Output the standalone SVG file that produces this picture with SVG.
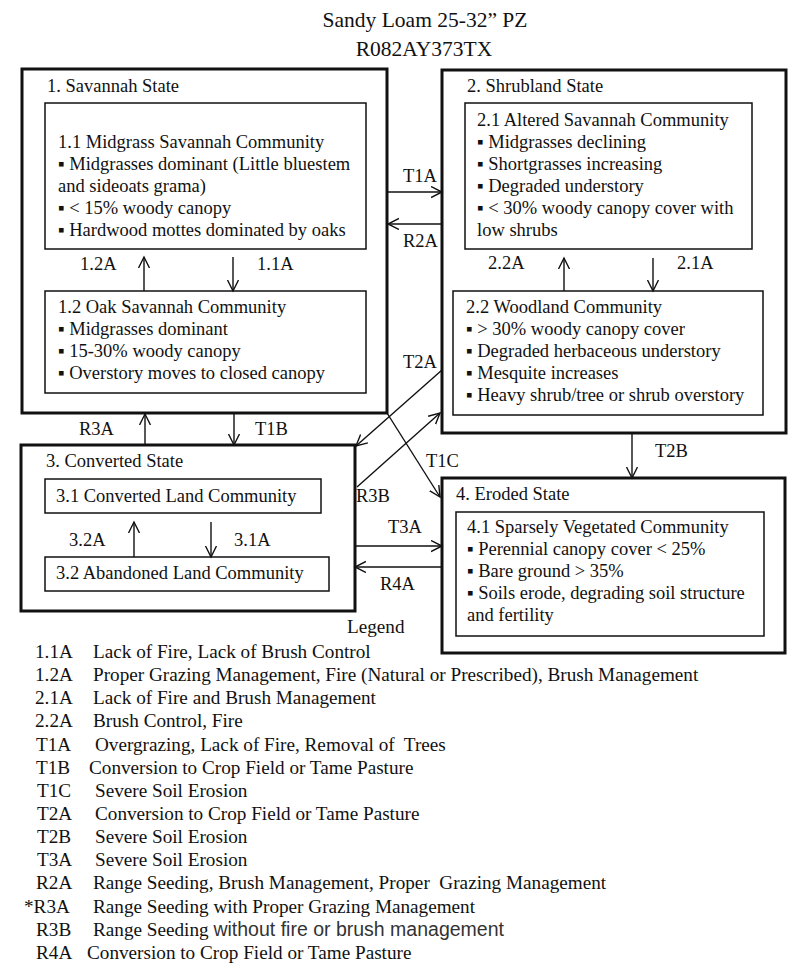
<svg xmlns="http://www.w3.org/2000/svg" width="800" height="973" viewBox="0 0 800 973">
<style>
text{font-family:"Liberation Serif","Times New Roman",serif;font-size:18.5px;fill:#111}
.title{font-size:21.5px;text-anchor:middle}
#legend text{font-size:19.2px}
#legend .sans{font-family:"Liberation Sans","Open Sans",sans-serif;font-size:19.5px;fill:#333}
.st{fill:none;stroke:#111;stroke-width:3}
.cb{fill:none;stroke:#111;stroke-width:1.5}
.cn line{stroke:#111;stroke-width:1.4;marker-end:url(#ah)}
</style>
<defs>
<marker id="ah" markerUnits="userSpaceOnUse" markerWidth="14" markerHeight="14" refX="11" refY="6" orient="auto">
<path d="M0,0.5 L11,6 L0,11.5" fill="none" stroke="#111" stroke-width="1.4"/>
</marker>
</defs>
<rect width="800" height="973" fill="#fff"/>

<g id="title">
<text class="title" x="425" y="27">Sandy Loam 25-32” PZ</text>
<text class="title" x="424" y="56">R082AY373TX</text>
</g>

<g id="state1">
<rect class="st" x="22" y="69" width="365" height="344"/>
<text x="47" y="92">1. Savannah State</text>
</g>
<g id="comm11">
<rect class="cb" x="45" y="103" width="321" height="146"/>
<text x="58" y="148">1.1 Midgrass Savannah Community</text>
<text x="58" y="170">▪ Midgrasses dominant (Little bluestem</text>
<text x="58" y="192">and sideoats grama)</text>
<text x="58" y="214">▪ &lt; 15% woody canopy</text>
<text x="58" y="236">▪ Hardwood mottes dominated by oaks</text>
</g>
<g id="comm12">
<rect class="cb" x="45" y="291" width="321" height="102"/>
<text x="58" y="313">1.2 Oak Savannah Community</text>
<text x="58" y="335">▪ Midgrasses dominant</text>
<text x="58" y="357">▪ 15-30% woody canopy</text>
<text x="58" y="379">▪ Overstory moves to closed canopy</text>
</g>

<g id="state2">
<rect class="st" x="442" y="70" width="344" height="363"/>
<text x="467" y="92">2. Shrubland State</text>
</g>
<g id="comm21">
<rect class="cb" x="465" y="103" width="287" height="146"/>
<text x="477" y="126">2.1 Altered Savannah Community</text>
<text x="477" y="148">▪ Midgrasses declining</text>
<text x="477" y="170">▪ Shortgrasses increasing</text>
<text x="477" y="192">▪ Degraded understory</text>
<text x="477" y="214">▪ &lt; 30% woody canopy cover with</text>
<text x="477" y="236">low shrubs</text>
</g>
<g id="comm22">
<rect class="cb" x="453" y="291" width="310" height="124"/>
<text x="466" y="313">2.2 Woodland Community</text>
<text x="466" y="335">▪ &gt; 30% woody canopy cover</text>
<text x="466" y="357">▪ Degraded herbaceous understory</text>
<text x="466" y="379">▪ Mesquite increases</text>
<text x="466" y="401">▪ Heavy shrub/tree or shrub overstory</text>
</g>

<g id="state3">
<rect class="st" x="21" y="445" width="334" height="166"/>
<text x="46" y="467">3. Converted State</text>
</g>
<g id="comm31">
<rect class="cb" x="45" y="479" width="276" height="34"/>
<text x="56" y="502">3.1 Converted Land Community</text>
</g>
<g id="comm32">
<rect class="cb" x="45" y="557" width="284" height="34"/>
<text x="56" y="579">3.2 Abandoned Land Community</text>
</g>

<g id="state4">
<rect class="st" x="442" y="478" width="343" height="175"/>
<text x="456" y="500">4. Eroded State</text>
</g>
<g id="comm41">
<rect class="cb" x="456" y="512" width="308" height="124"/>
<text x="467" y="533">4.1 Sparsely Vegetated Community</text>
<text x="467" y="555">▪ Perennial canopy cover &lt; 25%</text>
<text x="467" y="577">▪ Bare ground &gt; 35%</text>
<text x="467" y="599">▪ Soils erode, degrading soil structure</text>
<text x="467" y="621">and fertility</text>
</g>

<g id="connectors" class="cn">
<line x1="144" y1="291" x2="144" y2="257"/>
<line x1="233" y1="257" x2="233" y2="291"/>
<line x1="564" y1="291" x2="564" y2="258"/>
<line x1="653" y1="258" x2="653" y2="291"/>
<line x1="145" y1="445" x2="145" y2="414"/>
<line x1="234" y1="414" x2="234" y2="445"/>
<line x1="134" y1="557" x2="134" y2="522"/>
<line x1="211" y1="522" x2="211" y2="557"/>
<line x1="388" y1="192" x2="442" y2="192"/>
<line x1="442" y1="224" x2="388" y2="224"/>
<line x1="355" y1="546" x2="442" y2="546"/>
<line x1="442" y1="567" x2="355" y2="567"/>
<line x1="632" y1="433" x2="632" y2="478"/>
<line x1="442" y1="370" x2="356" y2="446"/>
<line x1="357" y1="487" x2="440" y2="413"/>
<line x1="387" y1="413" x2="440" y2="497"/>
</g>

<g id="connector-labels">
<text x="80" y="270">1.2A</text>
<text x="257" y="270">1.1A</text>
<text x="488" y="269">2.2A</text>
<text x="677" y="269">2.1A</text>
<text x="79" y="435">R3A</text>
<text x="255" y="435">T1B</text>
<text x="69" y="546">3.2A</text>
<text x="234" y="546">3.1A</text>
<text x="403" y="182">T1A</text>
<text x="403" y="247">R2A</text>
<text x="403" y="368">T2A</text>
<text x="426" y="467">T1C</text>
<text x="356" y="502">R3B</text>
<text x="388" y="533">T3A</text>
<text x="380" y="590">R4A</text>
<text x="655" y="457">T2B</text>
</g>

<g id="legend">
<text x="347" y="633">Legend</text>
<text x="35" y="658">1.1A</text><text x="93" y="658">Lack of Fire, Lack of Brush Control</text>
<text x="35" y="681">1.2A</text><text x="93" y="681">Proper Grazing Management, Fire (Natural or Prescribed), Brush Management</text>
<text x="35" y="704">2.1A</text><text x="93" y="704">Lack of Fire and Brush Management</text>
<text x="35" y="727">2.2A</text><text x="93" y="727">Brush Control, Fire</text>
<text x="36" y="751">T1A</text><text x="95" y="751">Overgrazing, Lack of Fire, Removal of&#160; Trees</text>
<text x="36" y="774">T1B</text><text x="89" y="774">Conversion to Crop Field or Tame Pasture</text>
<text x="37" y="797">T1C</text><text x="95" y="797">Severe Soil Erosion</text>
<text x="37" y="820">T2A</text><text x="95" y="820">Conversion to Crop Field or Tame Pasture</text>
<text x="37" y="843">T2B</text><text x="95" y="843">Severe Soil Erosion</text>
<text x="37" y="866">T3A</text><text x="95" y="866">Severe Soil Erosion</text>
<text x="36" y="889">R2A</text><text x="93" y="889">Range Seeding, Brush Management, Proper&#160; Grazing Management</text>
<text x="24" y="913">*R3A</text><text x="93" y="913">Range Seeding with Proper Grazing Management</text>
<text x="36" y="936">R3B</text><text x="93" y="936">Range Seeding <tspan class="sans">without fire or brush management</tspan></text>
<text x="36" y="959">R4A</text><text x="87" y="959">Conversion to Crop Field or Tame Pasture</text>
</g>
</svg>
